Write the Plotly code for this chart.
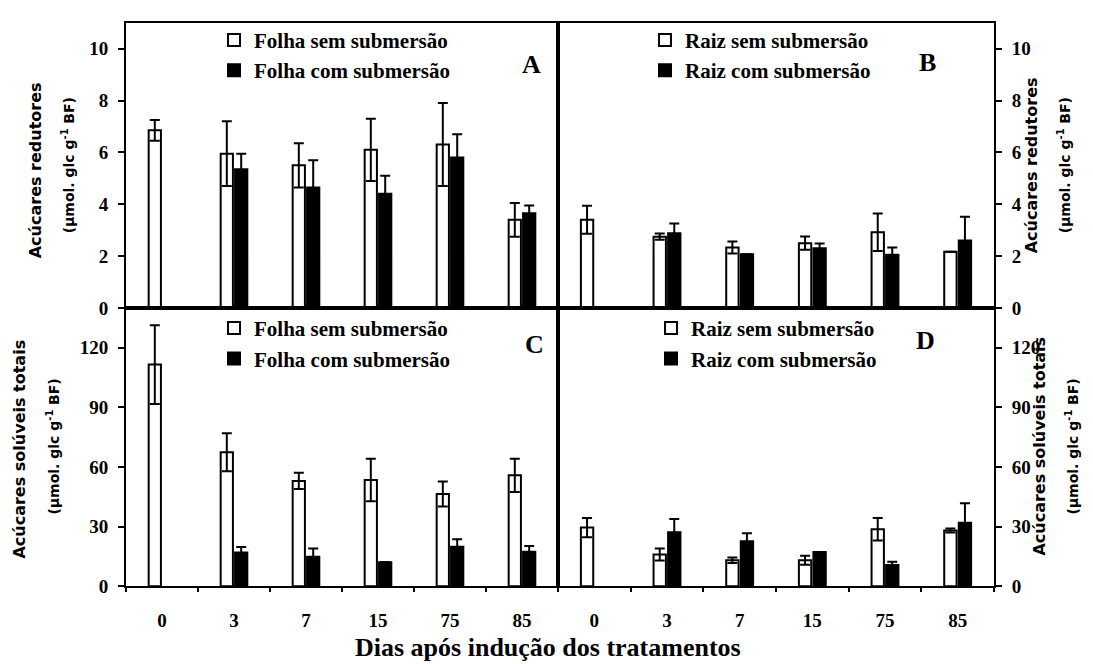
import plotly.graph_objects as go

# ---------------- data ----------------
days = ["0", "3", "7", "15", "75", "85"]

# A: reducing sugars, leaf
a_sem = [6.85, 5.95, 5.5, 6.1, 6.3, 3.4]
a_sem_err = [0.4, 1.25, 0.85, 1.2, 1.6, 0.65]
a_com = [None, 5.35, 4.65, 4.4, 5.8, 3.65]
a_com_err = [None, 0.6, 1.05, 0.7, 0.9, 0.3]

# B: reducing sugars, root
b_sem = [3.4, 2.75, 2.33, 2.5, 2.92, 2.17]
b_sem_err = [0.54, 0.12, 0.23, 0.26, 0.72, 0.0]
b_com = [None, 2.88, 2.07, 2.3, 2.05, 2.6]
b_com_err = [None, 0.38, 0.0, 0.19, 0.28, 0.92]

# C: total soluble sugars, leaf
c_sem = [111.5, 67.4, 53.0, 53.5, 46.4, 55.8]
c_sem_err = [19.8, 9.6, 4.1, 10.7, 6.3, 8.4]
c_com = [None, 17.0, 14.9, 12.1, 19.9, 17.4]
c_com_err = [None, 2.8, 4.1, 0.0, 3.8, 2.8]

# D: total soluble sugars, root
d_sem = [29.5, 16.0, 13.1, 13.1, 28.7, 28.0]
d_sem_err = [4.9, 3.0, 1.4, 2.3, 5.7, 1.0]
d_com = [None, 27.2, 22.6, 17.2, 10.7, 32.0]
d_com_err = [None, 6.6, 4.1, 0.0, 1.6, 9.8]

red_ticks = [0, 2, 4, 6, 8, 10]
tot_ticks = [0, 30, 60, 90, 120]

# ---------------- geometry ----------------
W, H = 1093, 664
def fx(p):
    return p / W
def fy(p):
    return 1 - p / H

XL = [fx(118), fx(550)]
XR = [fx(550), fx(986)]
YT = [fy(305), fy(15)]
YB = [fy(588), fy(305)]

SERIF = "Liberation Serif"
SANS = "DejaVu Sans"

fig = go.Figure()

def add_pair(xa, ya, sem, sem_err, com, com_err, organ, leg, grp):
    fig.add_trace(go.Bar(
        x=days, y=sem, name=f"{organ} sem submersão",
        marker=dict(color="white", line=dict(color="black", width=2)),
        error_y=dict(type="data", array=sem_err, color="black", thickness=2, width=5, visible=True),
        xaxis=xa, yaxis=ya, legend=leg, legendgroup=grp + "w",
    ))
    fig.add_trace(go.Bar(
        x=days, y=com, name=f"{organ} com submersão",
        marker=dict(color="black", line=dict(color="black", width=2)),
        error_y=dict(type="data", array=com_err, color="black", thickness=2, width=5, visible=True),
        xaxis=xa, yaxis=ya, legend=leg, legendgroup=grp + "b",
    ))

add_pair("x", "y", a_sem, a_sem_err, a_com, a_com_err, "Folha", "legend", "a")
add_pair("x2", "y2", b_sem, b_sem_err, b_com, b_com_err, "Raiz", "legend2", "b")
add_pair("x3", "y3", c_sem, c_sem_err, c_com, c_com_err, "Folha", "legend3", "c")
add_pair("x4", "y4", d_sem, d_sem_err, d_com, d_com_err, "Raiz", "legend4", "d")

tickfont = dict(family=SERIF, size=19, color="black", weight="bold")
frame = dict(showline=True, linecolor="black", linewidth=2, mirror=True,
             showgrid=False, zeroline=False)

def xaxis(domain, anchor, labels):
    d = dict(domain=domain, anchor=anchor, type="category", range=[-0.5, 5.5],
             tickfont=tickfont, **frame)
    if labels:
        d.update(showticklabels=True, ticks="outside", tickson="boundaries",
                 ticklen=4, tickwidth=2, tickcolor="black", ticklabelstandoff=16)
    else:
        d.update(showticklabels=False, ticks="")
    return d

def yaxis(domain, anchor, rng, tv, side):
    return dict(domain=domain, anchor=anchor, range=rng, tickvals=tv, side=side,
                ticks="outside", ticklen=6, tickwidth=2, tickcolor="black",
                ticklabelstandoff=6, tickfont=tickfont, **frame)

legfont = dict(family=SERIF, size=21, color="black", weight="bold")
def legend(xp, yp):
    return dict(x=fx(xp), y=fy(yp), xanchor="left", yanchor="top",
                bgcolor="rgba(0,0,0,0)", font=legfont, itemwidth=30,
                tracegroupgap=0, traceorder="normal")

annotations = []
def label(text, xp, yp, size=26):
    annotations.append(dict(text=text, x=fx(xp), y=fy(yp), xref="paper", yref="paper",
                            xanchor="center", yanchor="middle", showarrow=False,
                            font=dict(family=SERIF, size=size, color="black", weight="bold")))

label("A", 523, 57)
label("B", 919, 55)
label("C", 526, 342)
label("D", 917, 338)

def vtitle(text, xp, yp, size):
    annotations.append(dict(text=text, x=fx(xp), y=fy(yp), xref="paper", yref="paper",
                            xanchor="center", yanchor="middle",
                            showarrow=False, textangle=-90,
                            font=dict(family=SANS, size=size, color="black", weight="bold")))

unit = "(µmol. glc g<sup>-1</sup> BF)"
vtitle("Acúcares redutores", 27, 165, 16)
vtitle(unit, 60, 160, 14)
vtitle("Acúcares solúveis totais", 12, 449, 16)
vtitle(unit, 45, 446, 14)
vtitle("Acúcares redutores", 1023, 160, 16)
vtitle(unit, 1056, 160, 14)
vtitle("Acúcares solúveis totais", 1032, 446, 16)
vtitle(unit, 1064, 446, 14)

annotations.append(dict(text="Dias após indução dos tratamentos", x=fx(540), y=fy(650),
                        xref="paper", yref="paper", xanchor="center", yanchor="middle",
                        showarrow=False,
                        font=dict(family=SERIF, size=26, color="black", weight="bold")))

fig.update_layout(
    width=W, height=H, margin=dict(l=0, r=0, t=0, b=0),
    paper_bgcolor="white", plot_bgcolor="white",
    barmode="group", bargap=0.6, bargroupgap=0.15,
    xaxis=xaxis(XL, "y", False),
    yaxis=yaxis(YT, "x", [0, 11], red_ticks, "left"),
    xaxis2=xaxis(XR, "y2", False),
    yaxis2=yaxis(YT, "x2", [0, 11], red_ticks, "right"),
    xaxis3=xaxis(XL, "y3", True),
    yaxis3=yaxis(YB, "x3", [0, 140], tot_ticks, "left"),
    xaxis4=xaxis(XR, "y4", True),
    yaxis4=yaxis(YB, "x4", [0, 140], tot_ticks, "right"),
    legend=legend(206, 12),
    legend2=legend(637, 12),
    legend3=legend(206, 305),
    legend4=legend(643, 305),
    annotations=annotations,
)

fig.write_html("out.html")
